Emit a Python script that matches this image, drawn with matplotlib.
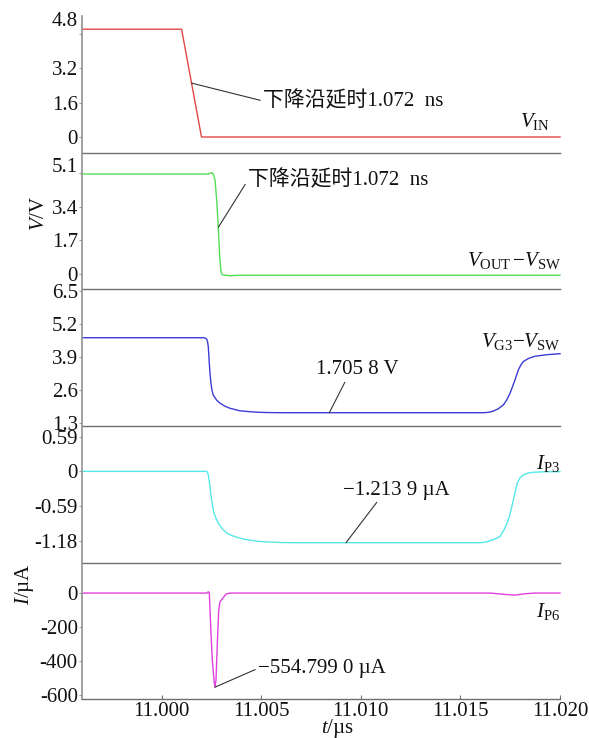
import matplotlib
matplotlib.use("Agg")
import matplotlib.pyplot as plt

plt.rcParams["font.family"] = ["Liberation Serif", "Noto Sans CJK SC"]
plt.rcParams["mathtext.fontset"] = "custom"
plt.rcParams["mathtext.rm"] = "Liberation Serif"
plt.rcParams["mathtext.it"] = "Liberation Serif:italic"
plt.rcParams["mathtext.bf"] = "Liberation Serif:bold"
plt.rcParams["axes.unicode_minus"] = False

# ---------------- data (time in microseconds) ----------------
time_range = (10.996, 11.020)
x_ticks = [11.000, 11.005, 11.010, 11.015, 11.020]
x_tick_labels = ["11.000", "11.005", "11.010", "11.015", "11.020"]

vin_t = [10.996, 11.0010, 11.0020, 11.020]
vin_v = [5.0, 5.0, 0.0, 0.0]

vout_t = [10.996, 11.002326, 11.002450, 11.002527, 11.002600, 11.002678,
          11.002763, 11.002843, 11.002914, 11.002979, 11.003030, 11.003094,
          11.003431, 11.003933, 11.020]
vout_v = [5.05, 5.05, 5.09, 5.12, 5.02, 4.75, 3.74, 2.36, 0.87, 0.12, -0.02,
          -0.05, -0.08, -0.06, -0.06]

vg3_t = [10.996, 11.002125, 11.002200, 11.002261, 11.002306, 11.002341,
         11.002392, 11.002432, 11.002477, 11.002527, 11.002593, 11.002758,
         11.002929, 11.003180, 11.003431, 11.003933, 11.004435, 11.004937,
         11.005440, 11.006107, 11.016149, 11.016400, 11.016651, 11.016902,
         11.017153, 11.017322, 11.017489, 11.017615, 11.017741, 11.017906,
         11.018032, 11.018157, 11.018409, 11.018660, 11.018745, 11.019333,
         11.020]
vg3_v = [4.66, 4.66, 4.64, 4.60, 4.50, 4.31, 3.65, 3.20, 2.86, 2.58, 2.40, 2.20,
         2.08, 1.96, 1.88, 1.78, 1.745, 1.72, 1.71, 1.7058, 1.7058, 1.72, 1.77,
         1.86, 2.01, 2.20, 2.47, 2.73, 3.00, 3.39, 3.58, 3.72, 3.84, 3.91, 3.93,
         3.99, 4.03]

ip3_t = [10.996, 11.002261, 11.002306, 11.002341, 11.002382, 11.002427,
         11.002467, 11.002512, 11.002567, 11.002627, 11.002728, 11.002843,
         11.003029, 11.003265, 11.003506, 11.003767, 11.004084, 11.004435,
         11.004837, 11.005273, 11.005941, 11.006609, 11.015983, 11.016234,
         11.016485, 11.016736, 11.016987, 11.017197, 11.017404, 11.017540,
         11.017655, 11.017756, 11.017856, 11.017991, 11.018157, 11.018393,
         11.018660, 11.019247, 11.020]
ip3_i = [0.0, 0.0, -0.02, -0.06, -0.15, -0.26, -0.38, -0.49, -0.61, -0.71, -0.80,
         -0.88, -0.97, -1.05, -1.09, -1.12, -1.15, -1.17, -1.19, -1.20, -1.21,
         -1.2139, -1.2139, -1.205, -1.18, -1.15, -1.11, -0.99, -0.83, -0.66,
         -0.49, -0.34, -0.20, -0.11, -0.06, -0.03, -0.015, -0.007, -0.005]

ip6_t = [10.996, 11.002276, 11.002341, 11.002392, 11.002462, 11.002543,
         11.002627, 11.002678, 11.002728, 11.002794, 11.002864, 11.002929,
         11.003065, 11.003230, 11.003431, 11.016485, 11.017238, 11.017741,
         11.018243, 11.018745, 11.020]
ip6_i = [0.0, 0.0, 8.0, 0.0, -199.0, -395.0, -513.0, -554.799, -513.0, -297.0,
         -100.0, -51.0, -31.0, -6.0, 0.0, 0.0, -8.0, -12.0, -4.0, 0.0, 0.0]

y_ticks = [
    [0.0, 1.6, 3.2, 4.8],
    [0.0, 1.7, 3.4, 5.1],
    [1.3, 2.6, 3.9, 5.2, 6.5],
    [-1.18, -0.59, 0.0, 0.59],
    [-600, -400, -200, 0],
]
y_tick_labels = [
    ["0", "1.6", "3.2", "4.8"],
    ["0", "1.7", "3.4", "5.1"],
    ["1.3", "2.6", "3.9", "5.2", "6.5"],
    ["-1.18", "-0.59", "0", "0.59"],
    ["-600", "-400", "-200", "0"],
]
y_limits = [(-0.728, 5.612), (-0.773, 6.126), (1.182, 6.567),
            (-1.554, 0.772), (-627.0, 179.0)]

series_t = [vin_t, vout_t, vg3_t, ip3_t, ip6_t]
series_y = [vin_v, vout_v, vg3_v, ip3_i, ip6_i]
series_colors = ["#e04848", "#55dd55", "#3b3bd6", "#55e8e8", "#e040e0"]
series_names = [r"$V_{\mathrm{IN}}$",
                r"$V_{\mathrm{OUT}}\,{-}V_{\mathrm{SW}}$",
                r"$V_{\mathrm{G3}}{-}V_{\mathrm{SW}}$",
                r"$I_{\mathrm{P3}}$",
                r"$I_{\mathrm{P6}}$"]
# series name anchors (axes fraction, right aligned)
name_pos = [(0.979, 0.227), (1.002, 0.214), (1.002, 0.617), (1.0, 0.727), (1.0, 0.641)]

# annotations: (panel, text, point on curve, text anchor, relpos, ha)
fall_text = "下降沿延时1.072  ns"
notes = [
    (0, fall_text, (11.0015, 2.5), (11.005088, 1.67), (0.0, 0.5), "left"),
    (1, fall_text, (11.002843, 2.36), (11.004335, 4.75), (0.0, 0.5), "left"),
    (2, "1.705 8 V", (11.008417, 1.7058), (11.009808, 3.39), (0.37, 0.0), "center"),
    (3, "\u22121.213 9 \u00b5A", (11.009255, -1.2139), (11.011766, -0.317), (0.34, 0.0), "center"),
    (4, "\u2212554.799 0 \u00b5A", (11.002678, -554.799), (11.004837, -444.0), (0.0, 0.5), "left"),
]

# ---------------- layout ----------------
W, H = 589, 738
fig = plt.figure(figsize=(W / 100, H / 100), dpi=100)
left_px, right_px = 82, 560
panel_tops = [16.0, 152.7, 289.3, 426.0, 562.7]
panel_h = 136.7

spine_grey = "#9a9a9a"
base_grey = "#6e6e6e"
tick_fs = 15
note_fs = 15

axes = []
for k in range(5):
    top = panel_tops[k]
    ax = fig.add_axes([left_px / W, 1 - (top + panel_h) / H,
                       (right_px - left_px) / W, panel_h / H])
    axes.append(ax)
    ax.plot(series_t[k], series_y[k], color=series_colors[k], lw=1.0,
            solid_joinstyle="round", clip_on=False)
    ax.set_xlim(*time_range)
    ax.set_ylim(*y_limits[k])
    for s in ("top", "right"):
        ax.spines[s].set_visible(False)
    ax.spines["left"].set_color(spine_grey)
    ax.spines["left"].set_linewidth(1.3)
    ax.spines["bottom"].set_color(base_grey)
    ax.spines["bottom"].set_linewidth(1.0)
    ax.set_facecolor("none")

    ax.set_yticks(y_ticks[k])
    ax.set_yticklabels(y_tick_labels[k], fontsize=tick_fs)
    ax.tick_params(axis="y", direction="out", length=2.2, width=0.8,
                   color=spine_grey, pad=0.8, labelcolor="#111111")

    if k < 4:
        ax.set_xticks([])
    else:
        ax.set_xticks(x_ticks)
        ax.set_xticklabels(x_tick_labels, fontsize=tick_fs)
        ax.tick_params(axis="x", direction="in", length=3.0, width=0.8,
                       color=base_grey, pad=2.0, labelcolor="#111111")

    nx, ny = name_pos[k]
    ax.text(nx, ny, series_names[k], transform=ax.transAxes, ha="right",
            va="center", fontsize=note_fs, color="#111111")

# the topmost labels of the first two panels sit slightly above their ticks
for k, shift in ((0, 12), (1, 6)):
    ax = axes[k]
    new_labels = list(y_tick_labels[k])
    top_label = new_labels[-1]
    new_labels[-1] = ""
    ax.set_yticklabels(new_labels, fontsize=tick_fs)
    ax.annotate(top_label, xy=(0, y_ticks[k][-1]),
                xycoords=("axes fraction", "data"),
                xytext=(-4, shift), textcoords="offset pixels",
                ha="right", va="center", fontsize=tick_fs, color="#111111")

for k, txt, pt, anchor, rel, ha in notes:
    axes[k].annotate(txt, xy=pt, xytext=anchor, ha=ha, va="center",
                     fontsize=note_fs, color="#111111",
                     arrowprops=dict(arrowstyle="-", color="#333333", lw=0.8,
                                     shrinkA=0, shrinkB=0, relpos=rel))

fig.text(40 / W, 1 - 213 / H, "$V$/V", rotation=90, ha="center", va="center",
         fontsize=tick_fs, color="#111111")
fig.text(25 / W, 1 - 584 / H, "$I$/\u00b5A", rotation=90, ha="center",
         va="center", fontsize=tick_fs, color="#111111")
fig.text(338 / W, 1 - 728 / H, "$t$/\u00b5s", ha="center", va="center",
         fontsize=tick_fs, color="#111111")

fig.savefig("out.png", dpi=100, facecolor="white")
